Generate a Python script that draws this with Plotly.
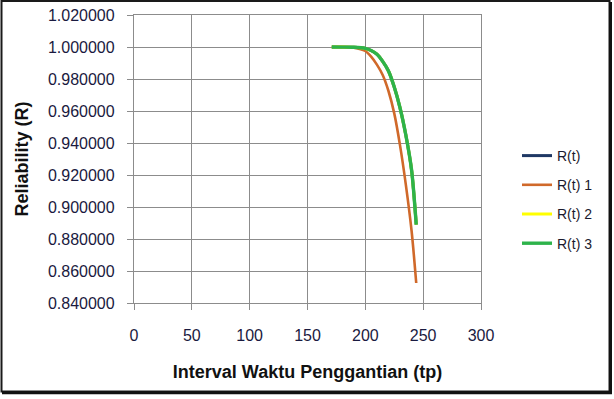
import plotly.graph_objects as go

# ---- data ----
t_main = [171, 180, 190, 200, 205, 210, 215, 220, 225, 230, 235, 240, 244]
r_t   = [1.0000, 0.99995, 0.9998, 0.9991, 0.9978, 0.9955, 0.9910, 0.9850, 0.9750, 0.9620, 0.9450, 0.9230, 0.8890]
r_t2  = [1.0000, 0.99995, 0.9998, 0.9991, 0.9978, 0.9955, 0.9910, 0.9850, 0.9750, 0.9620, 0.9450, 0.9230, 0.8890]
r_t3  = [1.0000, 0.99995, 0.9998, 0.9991, 0.9978, 0.9955, 0.9910, 0.9850, 0.9750, 0.9620, 0.9450, 0.9230, 0.8890]
t_one = [171, 180, 190, 195, 200, 205, 210, 215, 220, 225, 230, 235, 240, 244]
r_t1  = [1.0000, 0.99995, 0.9995, 0.9988, 0.9975, 0.9940, 0.9890, 0.9825, 0.9725, 0.9585, 0.9385, 0.9140, 0.8850, 0.8525]

series_names = ["R(t)", "R(t) 1", "R(t) 2", "R(t) 3"]
series_colors = ["#1F3864", "#D0692A", "#FFFF00", "#2DB34A"]

x_ticks = [0, 50, 100, 150, 200, 250, 300]
y_ticks = [0.84, 0.86, 0.88, 0.90, 0.92, 0.94, 0.96, 0.98, 1.00, 1.02]

W, H = 614, 399
L, R, T, B = 134, 481, 15, 303  # plot area in px


def px(p):
    return (p - L) / (R - L)


def py(q):
    return (B - q) / (B - T)


fig = go.Figure()
xs = [t_main, t_one, t_main, t_main]
ys = [r_t, r_t1, r_t2, r_t3]
widths = [3, 2.6, 3, 3.4]
for i, (name, color, x, y, w) in enumerate(zip(series_names, series_colors, xs, ys, widths)):
    fig.add_trace(go.Scatter(x=x, y=y, mode="lines", name=name, legendgroup="g%d" % i,
                             line=dict(color=color, width=w, shape="spline", smoothing=0.8)))

grid = "#8C8C8C"
font_family = "Liberation Sans, Arial, sans-serif"

fig.update_layout(
    width=W, height=H,
    margin=dict(l=L, r=W - R, t=T, b=H - B),
    paper_bgcolor="white", plot_bgcolor="white",
    font=dict(family=font_family, color="#1a1a2e"),
    showlegend=True,
    legend=dict(x=px(517), y=py(140), xanchor="left", yanchor="top",
                font=dict(size=14, color="#1a1a2e", family=font_family),
                tracegroupgap=8, itemwidth=30, bgcolor="rgba(0,0,0,0)",
                traceorder="grouped"),
    xaxis=dict(range=[0, 300], tickvals=x_ticks, ticktext=[str(v) for v in x_ticks],
               showgrid=True, gridcolor=grid, gridwidth=1.3,
               showline=True, linecolor=grid, linewidth=1.3, mirror=True,
               ticks="outside", ticklen=6, tickcolor=grid, tickwidth=1.3,
               tickfont=dict(size=16, color="#1a1a40"), ticklabelstandoff=12,
               zeroline=False, automargin=False,
               title=dict(text="<b>Interval Waktu Penggantian (tp)</b>",
                          font=dict(size=18, color="#111111"), standoff=22)),
    yaxis=dict(range=[0.84, 1.02], tickvals=y_ticks,
               ticktext=["%.6f" % v for v in y_ticks],
               showgrid=True, gridcolor=grid, gridwidth=1.3,
               showline=True, linecolor=grid, linewidth=1.3, mirror=True,
               ticks="outside", ticklen=6, tickcolor=grid, tickwidth=1.3,
               tickfont=dict(size=16, color="#1a1a40"), ticklabelstandoff=9,
               zeroline=False, automargin=False,
               title=dict(text="<b>Reliability (R)</b>",
                          font=dict(size=18, color="#111111"), standoff=14)),
)

# outer frame of the chart image
fig.add_shape(type="rect", xref="paper", yref="paper",
              x0=px(1.5), x1=px(609.5), y0=py(391.5), y1=py(1),
              line=dict(color="#1a1a1a", width=2), layer="above")
fig.add_shape(type="line", xref="paper", yref="paper",
              x0=px(610.5), x1=px(610.5), y0=py(393.5), y1=py(2),
              line=dict(color="#111111", width=3), layer="above")
fig.add_shape(type="line", xref="paper", yref="paper",
              x0=px(2), x1=px(612), y0=py(392.8), y1=py(392.8),
              line=dict(color="#111111", width=3), layer="above")

fig.write_html("out.html")
